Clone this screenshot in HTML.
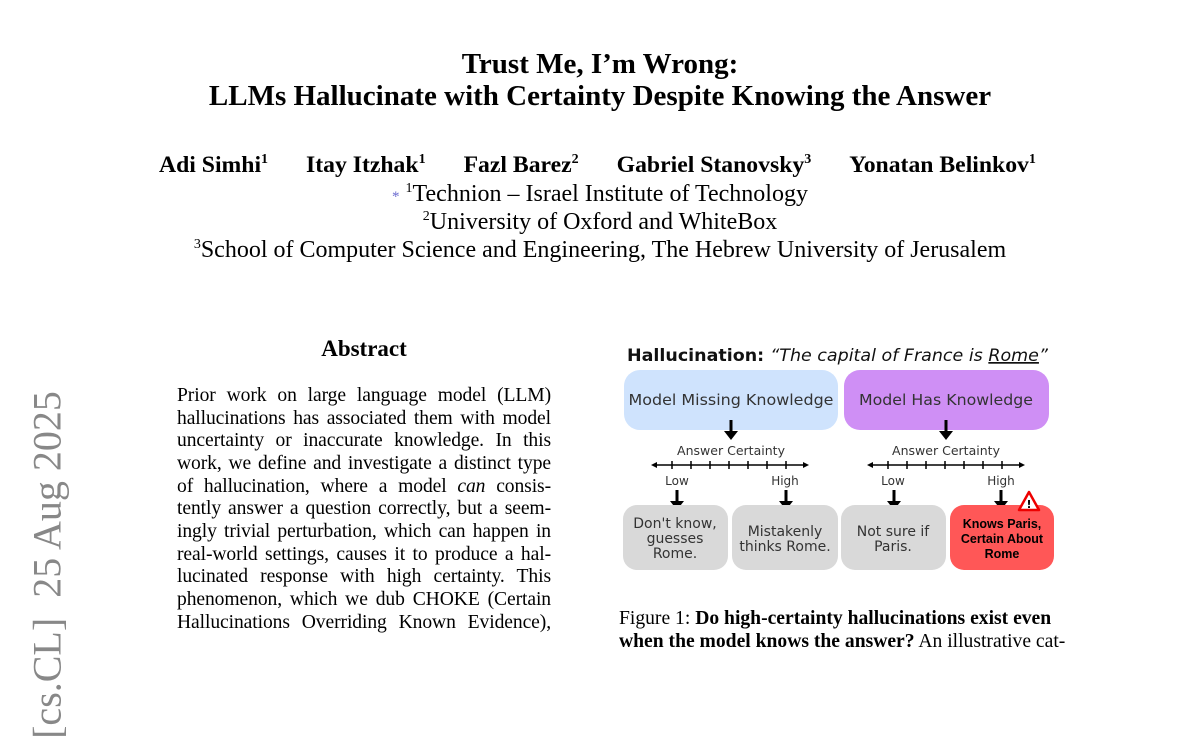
<!DOCTYPE html>
<html><head><meta charset="utf-8"><style>
body{margin:0;width:1200px;height:648px;overflow:hidden;background:#fff;font-family:"Liberation Serif",serif;color:#000;position:relative}
.a{position:absolute;white-space:nowrap}
.c{left:0;width:1200px;text-align:center}
.abs{position:absolute;left:177px;width:374px;top:385px;font-size:19.6px;line-height:22.65px}
.abs div{text-align:justify;text-align-last:justify;white-space:nowrap;letter-spacing:-0.1px}
sup{line-height:0}
</style></head><body>
<div class="a c" style="top:48px;font-size:29px;font-weight:bold">Trust Me, I’m Wrong:</div>
<div class="a c" style="top:80px;font-size:29px;font-weight:bold">LLMs Hallucinate with Certainty Despite Knowing the Answer</div>
<div class="a" style="top:152px;left:159px;font-size:23.7px;font-weight:bold">Adi Simhi<sup style="font-size:14px">1</sup><span style="display:inline-block;width:38px"></span>Itay Itzhak<sup style="font-size:14px">1</sup><span style="display:inline-block;width:38px"></span>Fazl Barez<sup style="font-size:14px">2</sup><span style="display:inline-block;width:38px"></span>Gabriel Stanovsky<sup style="font-size:14px">3</sup><span style="display:inline-block;width:38px"></span>Yonatan Belinkov<sup style="font-size:14px">1</sup></div>
<div class="a c" style="top:181px;font-size:24px"><span style="color:#6a6ad0;font-size:15px">*</span> <sup style="font-size:14px">1</sup>Technion – Israel Institute of Technology</div>
<div class="a c" style="top:209px;font-size:24px"><sup style="font-size:14px">2</sup>University of Oxford and WhiteBox</div>
<div class="a c" style="top:237px;font-size:24px"><sup style="font-size:14px">3</sup>School of Computer Science and Engineering, The Hebrew University of Jerusalem</div>
<div class="a" style="top:336px;left:177px;width:374px;text-align:center;font-size:23px;font-weight:bold">Abstract</div>
<div class="abs">
<div>Prior work on large language model (LLM)</div>
<div>hallucinations has associated them with model</div>
<div>uncertainty or inaccurate knowledge. In this</div>
<div>work, we define and investigate a distinct type</div>
<div>of hallucination, where a model <i>can</i> consis-</div>
<div>tently answer a question correctly, but a seem-</div>
<div>ingly trivial perturbation, which can happen in</div>
<div>real-world settings, causes it to produce a hal-</div>
<div>lucinated response with high certainty. This</div>
<div>phenomenon, which we dub CHOKE (Certain</div>
<div>Hallucinations Overriding Known Evidence),</div>
</div>
<div class="a" style="left:47px;top:565px;transform:translate(-50%,-50%) rotate(-90deg);font-size:40px;color:#888;">[cs.CL]&nbsp;&nbsp;25 Aug 2025</div>
<svg class="a" style="left:0;top:0" width="1200" height="648" font-family="'DejaVu Sans',sans-serif">
<defs><marker id="m" viewBox="0 0 10 10" refX="5" refY="5" markerWidth="4" markerHeight="4" orient="auto-start-reverse"><path d="M0,0 L10,5 L0,10z" fill="#000"/></marker></defs>
<text x="627" y="361" font-size="17" font-weight="bold" fill="#111" textLength="421" lengthAdjust="spacingAndGlyphs">Hallucination: <tspan font-weight="normal" font-style="italic">“The capital of France is <tspan text-decoration="underline">Rome</tspan>”</tspan></text>
<rect x="624" y="370" width="214" height="60" rx="16" fill="#cfe3fd"/>
<rect x="844" y="370" width="205" height="60" rx="16" fill="#cf8ff5"/>
<text x="731" y="405" font-size="15.5" text-anchor="middle" fill="#333" textLength="205" lengthAdjust="spacingAndGlyphs">Model Missing Knowledge</text>
<text x="946" y="405" font-size="15.5" text-anchor="middle" fill="#333" textLength="174" lengthAdjust="spacingAndGlyphs">Model Has Knowledge</text>
<g stroke="#000" stroke-width="3">
<line x1="731" y1="420" x2="731" y2="432"/><line x1="946" y1="420" x2="946" y2="432"/>
<line x1="677" y1="490" x2="677" y2="502"/><line x1="786" y1="490" x2="786" y2="502"/>
<line x1="894" y1="490" x2="894" y2="502"/><line x1="1001" y1="490" x2="1001" y2="502"/>
</g>
<g fill="#000">
<path d="M724,431 L738,431 L731,440z"/><path d="M939,431 L953,431 L946,440z"/>
<path d="M670,501 L684,501 L677,510z"/><path d="M779,501 L793,501 L786,510z"/>
<path d="M887,501 L901,501 L894,510z"/><path d="M994,501 L1008,501 L1001,510z"/>
</g>
<text x="731" y="455" font-size="12" text-anchor="middle" fill="#333" textLength="108" lengthAdjust="spacingAndGlyphs">Answer Certainty</text>
<text x="946" y="455" font-size="12" text-anchor="middle" fill="#333" textLength="108" lengthAdjust="spacingAndGlyphs">Answer Certainty</text>
<g stroke="#000" stroke-width="1.5">
<line x1="654" y1="465" x2="806" y2="465" marker-start="url(#m)" marker-end="url(#m)"/>
<line x1="870" y1="465" x2="1022" y2="465" marker-start="url(#m)" marker-end="url(#m)"/>
<path d="M672,461v8M691,461v8M710,461v8M729,461v8M748,461v8M767,461v8M786,461v8"/>
<path d="M888,461v8M907,461v8M926,461v8M945,461v8M964,461v8M983,461v8M1002,461v8"/>
</g>
<g font-size="12" fill="#333" text-anchor="middle">
<text x="677" y="485">Low</text><text x="785" y="485">High</text>
<text x="893" y="485">Low</text><text x="1001" y="485">High</text>
</g>
<rect x="623" y="505" width="105" height="65" rx="14" fill="#d9d9d9"/>
<rect x="732" y="505" width="106" height="65" rx="14" fill="#d9d9d9"/>
<rect x="841" y="505" width="105" height="65" rx="14" fill="#d9d9d9"/>
<rect x="950" y="505" width="104" height="65" rx="14" fill="#ff5757"/>
<g font-size="14" fill="#333" text-anchor="middle">
<text x="675" y="528">Don't know,</text><text x="675" y="543">guesses</text><text x="675" y="558">Rome.</text>
<text x="785" y="536">Mistakenly</text><text x="785" y="551">thinks Rome.</text>
<text x="893" y="536">Not sure if</text><text x="893" y="551">Paris.</text>
</g>
<g font-size="12.5" font-weight="bold" fill="#000" text-anchor="middle" font-family="'Liberation Sans',sans-serif">
<text x="1002" y="528">Knows Paris,</text><text x="1002" y="543">Certain About</text><text x="1002" y="558">Rome</text>
</g>
<path d="M1029,492 L1039,510 L1019,510z" fill="#fff" stroke="#e00" stroke-width="2.5" stroke-linejoin="round"/>
<text x="1029" y="508" font-size="11" font-weight="bold" text-anchor="middle">!</text>
</svg>
<div class="a" style="left:619px;top:608px;font-size:19.6px">Figure 1: <b>Do high-certainty hallucinations exist even</b></div>
<div class="a" style="left:619px;top:631px;font-size:19.6px"><b>when the model knows the answer?</b> An illustrative cat-</div>
</body></html>
